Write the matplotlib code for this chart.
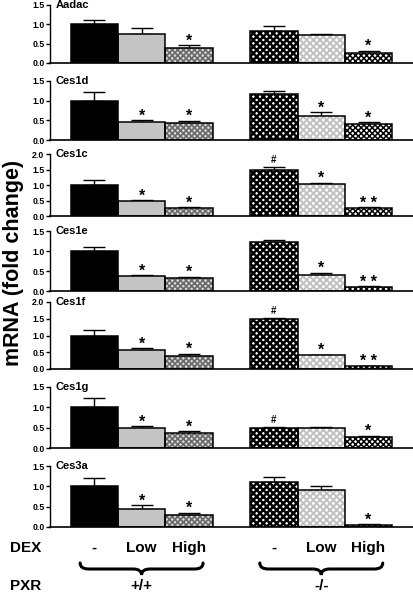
import matplotlib
matplotlib.use("Agg")
import matplotlib.pyplot as plt
from matplotlib.path import Path
from matplotlib.patches import PathPatch
import matplotlib.transforms as mtransforms

plt.rcParams['font.family'] = ['Liberation Sans', 'DejaVu Sans']

# ---------------- data ----------------
genes = ['Aadac', 'Ces1d', 'Ces1c', 'Ces1e', 'Ces1f', 'Ces1g', 'Ces3a']
ymax = [1.5, 1.5, 2.0, 1.5, 2.0, 1.5, 1.5]
dex_labels = ['-', 'Low', 'High', '-', 'Low', 'High']
pxr_labels = ['+/+', '-/-']

aadac_mean = [1.00, 0.76, 0.39, 0.83, 0.72, 0.26]
aadac_sem = [0.12, 0.14, 0.07, 0.12, 0.02, 0.06]
ces1d_mean = [1.00, 0.47, 0.42, 1.16, 0.60, 0.41]
ces1d_sem = [0.23, 0.03, 0.07, 0.08, 0.10, 0.04]
ces1c_mean = [1.00, 0.48, 0.25, 1.50, 1.02, 0.25]
ces1c_sem = [0.15, 0.03, 0.03, 0.09, 0.06, 0.03]
ces1e_mean = [1.00, 0.37, 0.32, 1.23, 0.39, 0.10]
ces1e_sem = [0.10, 0.03, 0.04, 0.04, 0.07, 0.02]
ces1f_mean = [1.00, 0.56, 0.40, 1.49, 0.42, 0.09]
ces1f_sem = [0.17, 0.06, 0.06, 0.03, 0.01, 0.01]
ces1g_mean = [1.00, 0.48, 0.38, 0.50, 0.50, 0.26]
ces1g_sem = [0.22, 0.06, 0.04, 0.01, 0.01, 0.04]
ces3a_mean = [1.00, 0.45, 0.30, 1.10, 0.90, 0.06]
ces3a_sem = [0.21, 0.08, 0.05, 0.12, 0.10, 0.01]

aadac_sig = ['', '', '*', '', '', '*']
ces1d_sig = ['', '*', '*', '', '*', '*']
ces1c_sig = ['', '*', '*', '#', '*', '**']
ces1e_sig = ['', '*', '*', '', '*', '**']
ces1f_sig = ['', '*', '*', '#', '*', '**']
ces1g_sig = ['', '*', '*', '#', '', '*']
ces3a_sig = ['', '*', '*', '', '', '*']

means = [aadac_mean, ces1d_mean, ces1c_mean, ces1e_mean, ces1f_mean, ces1g_mean, ces3a_mean]
sems = [aadac_sem, ces1d_sem, ces1c_sem, ces1e_sem, ces1f_sem, ces1g_sem, ces3a_sem]
sigs = [aadac_sig, ces1d_sig, ces1c_sig, ces1e_sig, ces1f_sig, ces1g_sig, ces3a_sig]

# ---------------- layout ----------------
W, H = 414, 593
fig = plt.figure(figsize=(W / 100, H / 100), dpi=100)

# (top tick pixel, baseline pixel) for each panel
panel_px = [(5, 63), (81, 140), (154, 216), (231, 291), (302, 369), (387, 448), (466, 527)]
ax_left_px, ax_right_px = 50, 413
xpos = [0, 1, 2, 3.8, 4.8, 5.8]
xlim = (-0.937, 6.74)

styles = [
    dict(face='black', hatch=None, hcol='black', hlw=1.0),
    dict(face='#c4c4c4', hatch=None, hcol='#c4c4c4', hlw=1.0),
    dict(face='#dadada', hatch='xxxxxx', hcol='#6a6a6a', hlw=1.2),
    dict(face='white', hatch='xxxxx', hcol='black', hlw=1.8),
    dict(face='white', hatch='xxxxx', hcol='#c0c0c0', hlw=1.4),
    dict(face='white', hatch='xxxxxx', hcol='black', hlw=1.1),
]

axes = []
for i, g in enumerate(genes):
    top, base = panel_px[i]
    ax = fig.add_axes([ax_left_px / W, 1 - base / H,
                       (ax_right_px - ax_left_px) / W, (base - top) / H])
    axes.append(ax)
    ax.set_xlim(*xlim)
    ax.set_ylim(0, ymax[i])
    for j in range(6):
        st = styles[j]
        with plt.rc_context({'hatch.linewidth': st['hlw']}):
            ax.bar(xpos[j], means[i][j], width=1.0, color=st['face'],
                   hatch=st['hatch'], edgecolor=st['hcol'], linewidth=0, zorder=2)
        ax.bar(xpos[j], means[i][j], width=1.0, fill=False,
               edgecolor='black', linewidth=1.1, zorder=3)
        ax.errorbar(xpos[j], means[i][j], yerr=[[0], [sems[i][j]]], fmt='none',
                    ecolor='black', elinewidth=1.0, capsize=8, capthick=1.0, zorder=1)
        s = sigs[i][j]
        if s:
            ytop = means[i][j] + sems[i][j]
            if s == '#':
                ax.annotate(s, (xpos[j], ytop), xytext=(0, 1.5), textcoords='offset points',
                            ha='center', va='bottom', fontsize=7, fontweight='bold')
            else:
                ax.annotate(' '.join(s) if len(s) > 1 else s, (xpos[j], ytop),
                            xytext=(0, -2.5), textcoords='offset points',
                            ha='center', va='bottom', fontsize=11.5, fontweight='bold')
    ax.set_yticks([k * 0.5 for k in range(int(ymax[i] / 0.5) + 1)])
    ax.set_yticklabels(['%.1f' % (k * 0.5) for k in range(int(ymax[i] / 0.5) + 1)])
    ax.set_xticks([])
    for sp in ['top', 'right']:
        ax.spines[sp].set_visible(False)
    ax.spines['left'].set_linewidth(1.0)
    ax.spines['bottom'].set_linewidth(1.2)
    ax.tick_params(axis='y', length=3, width=1.0, pad=1, labelsize=6.3)
    for t in ax.get_yticklabels():
        t.set_fontweight('bold')
    ax.text(0.015, 1.0, g, transform=ax.transAxes, ha='left', va='center',
            fontsize=8, fontweight='bold')

# overlay axes in pixel coordinates
ov = fig.add_axes([0, 0, 1, 1], zorder=-1)
ov.set_xlim(0, W)
ov.set_ylim(H, 0)
ov.axis('off')

fig.text(14 / W, 1 - 263 / H, 'mRNA (fold change)', rotation=90, ha='center', va='center',
         fontsize=15.5, fontweight='bold')

last = axes[-1]
blend = mtransforms.blended_transform_factory(last.transData, ov.transData)

ov.text(10, 548, 'DEX', ha='left', va='center', fontsize=11, fontweight='bold')
ov.text(10, 586, 'PXR', ha='left', va='center', fontsize=11, fontweight='bold')
for j, lab in enumerate(dex_labels):
    last.text(xpos[j], 548, lab, transform=blend, ha='center', va='center',
              fontsize=11, fontweight='bold')

def brace(xc, half, y_end=563, y_mid=569, y_tip=575):
    x0, x1 = xc - half, xc + half
    r = 0.18
    verts = [(x0, y_end), (x0, y_mid), (x0 + r, y_mid),
             (xc - r, y_mid), (xc, y_mid), (xc, y_tip),
             (xc, y_mid), (xc + r, y_mid),
             (x1 - r, y_mid), (x1, y_mid), (x1, y_end)]
    codes = [Path.MOVETO, Path.CURVE3, Path.CURVE3,
             Path.LINETO, Path.CURVE3, Path.CURVE3,
             Path.CURVE3, Path.CURVE3,
             Path.LINETO, Path.CURVE3, Path.CURVE3]
    p = PathPatch(Path(verts, codes), transform=blend, fill=False,
                  edgecolor='black', linewidth=2.2, capstyle='round')
    ov.add_patch(p)

for gi, lab in enumerate(pxr_labels):
    xc = xpos[gi * 3 + 1]
    brace(xc, 1.3)
    last.text(xc, 586, lab, transform=blend, ha='center', va='center',
              fontsize=11, fontweight='bold')

fig.savefig('out.png', dpi=100)
